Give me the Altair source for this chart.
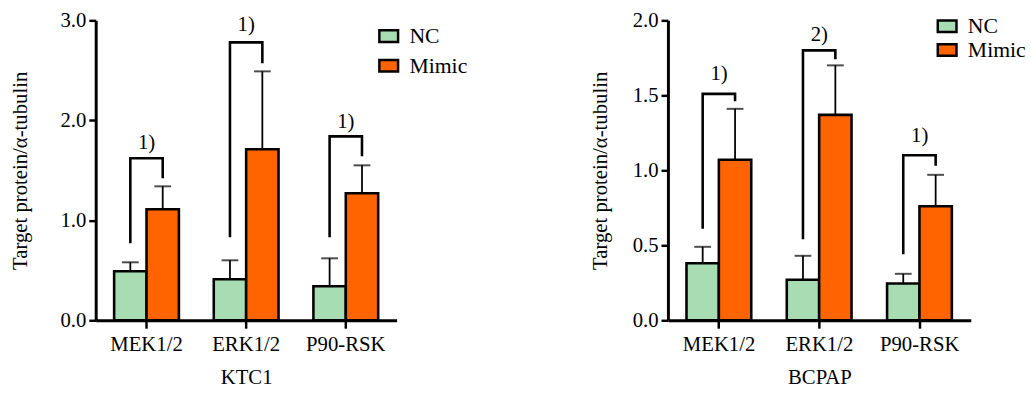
import altair as alt
import pandas as pd

genes = ["MEK1/2", "ERK1/2", "P90-RSK"]
groups = ["NC", "Mimic"]
colors = ["#A8DDB4", "#FF6400"]

# KTC1 panel
ktc1_nc = [0.49, 0.41, 0.34]
ktc1_nc_err = [0.58, 0.60, 0.62]
ktc1_mimic = [1.11, 1.71, 1.27]
ktc1_mimic_err = [1.34, 2.49, 1.55]
ktc1_sig = ["1)", "1)", "1)"]
ktc1_br_bottom = [0.77, 0.83, 0.83]
ktc1_br_top = [1.62, 2.78, 1.84]
ktc1_br_right = [1.42, 2.57, 1.64]
ktc1_label_y = [1.77, 2.95, 1.98]
ktc1_ticks = [0.0, 1.0, 2.0, 3.0]

# BCPAP panel
bcpap_nc = [0.38, 0.27, 0.245]
bcpap_nc_err = [0.49, 0.43, 0.31]
bcpap_mimic = [1.07, 1.37, 0.76]
bcpap_mimic_err = [1.41, 1.70, 0.97]
bcpap_sig = ["1)", "2)", "1)"]
bcpap_br_bottom = [0.61, 0.54, 0.44]
bcpap_br_top = [1.51, 1.80, 1.10]
bcpap_br_right = [1.46, 1.74, 1.03]
bcpap_label_y = [1.64, 1.90, 1.23]
bcpap_ticks = [0.0, 0.5, 1.0, 1.5, 2.0]

FONT = "Liberation Serif"
FS = 21
YTITLE = "Target protein/α-tubulin"
SYMBOL = "M-1,-0.62L1,-0.62L1,0.62L-1,0.62Z"


def panel(nc, nc_err, mimic, mimic_err, sig, bb, bt, br, ly, title, ticks,
          width, lx, lyy, row_pad, ytp):
    bar_df = pd.DataFrame({
        "gene": genes * 2,
        "group": ["NC"] * 3 + ["Mimic"] * 3,
        "value": nc + mimic,
        "err": nc_err + mimic_err,
    })
    br_rows = []
    for i, g in enumerate(genes):
        br_rows += [
            {"gene": g, "group": "NC", "value": bb[i], "ord": 0},
            {"gene": g, "group": "NC", "value": bt[i], "ord": 1},
            {"gene": g, "group": "Mimic", "value": bt[i], "ord": 2},
            {"gene": g, "group": "Mimic", "value": br[i], "ord": 3},
        ]
    br_df = pd.DataFrame(br_rows)
    lab_df = pd.DataFrame({"gene": genes, "value": ly, "label": sig})

    x_axis = alt.Axis(title=title, labelAngle=0, labelFontSize=FS, titleFontSize=FS,
                      labelFont=FONT, titleFont=FONT, titleFontWeight="normal",
                      labelColor="black", titleColor="black", domainColor="black",
                      tickColor="black", domainWidth=3, tickWidth=2.5, tickSize=8,
                      labelPadding=6, titlePadding=12)
    y_axis = alt.Axis(title=YTITLE, values=ticks, format=".1f", grid=False,
                      labelFontSize=FS, titleFontSize=FS, labelFont=FONT, titleFont=FONT,
                      titleFontWeight="normal", labelColor="black", titleColor="black",
                      domainColor="black", tickColor="black", domainWidth=3,
                      tickWidth=2.5, tickSize=7, labelPadding=3, titlePadding=ytp)
    x_enc = alt.X("gene:N", sort=genes, axis=x_axis,
                  scale=alt.Scale(paddingInner=0.35, paddingOuter=0.185))
    xo_enc = alt.XOffset("group:N", sort=groups,
                         scale=alt.Scale(paddingInner=0, paddingOuter=0))
    y_scale = alt.Scale(domain=[ticks[0], ticks[-1]], nice=False)

    bars = alt.Chart(bar_df).mark_bar(stroke="black", strokeWidth=2.6).encode(
        x=x_enc, xOffset=xo_enc,
        y=alt.Y("value:Q", scale=y_scale, axis=y_axis),
        color=alt.Color("group:N", sort=groups,
                        scale=alt.Scale(domain=groups, range=colors),
                        legend=alt.Legend(title=None, orient="none", legendX=lx,
                                          legendY=lyy, symbolType=SYMBOL,
                                          symbolSize=360, symbolStrokeColor="black",
                                          symbolStrokeWidth=2.5, symbolOpacity=1,
                                          labelFontSize=22, labelFont=FONT,
                                          labelColor="black", rowPadding=row_pad,
                                          padding=0, labelOffset=10)),
    )
    err = alt.Chart(bar_df).mark_rule(color="black", strokeWidth=1.8).encode(
        x=x_enc, xOffset=xo_enc,
        y=alt.Y("value:Q", scale=y_scale, axis=y_axis), y2="err:Q",
    )
    cap = alt.Chart(bar_df).mark_tick(color="black", thickness=2, size=17,
                                      orient="horizontal").encode(
        x=x_enc, xOffset=xo_enc,
        y=alt.Y("err:Q", scale=y_scale, axis=y_axis),
    )
    bracket = alt.Chart(br_df).mark_line(color="black", strokeWidth=2.6,
                                         strokeJoin="miter").encode(
        x=x_enc, xOffset=xo_enc,
        y=alt.Y("value:Q", scale=y_scale, axis=y_axis),
        detail="gene:N", order="ord:Q",
    )
    labels = alt.Chart(lab_df).mark_text(font=FONT, fontSize=FS, color="black",
                                         baseline="middle").encode(
        x=x_enc, y=alt.Y("value:Q", scale=y_scale, axis=y_axis), text="label:N",
    )
    return alt.layer(bars, err, cap, bracket, labels).properties(width=width, height=304)


left = panel(ktc1_nc, ktc1_nc_err, ktc1_mimic, ktc1_mimic_err, ktc1_sig,
             ktc1_br_bottom, ktc1_br_top, ktc1_br_right, ktc1_label_y, "KTC1",
             ktc1_ticks, 305, 286, 5, 8, 30)
right = panel(bcpap_nc, bcpap_nc_err, bcpap_mimic, bcpap_mimic_err, bcpap_sig,
              bcpap_br_bottom, bcpap_br_top, bcpap_br_right, bcpap_label_y, "BCPAP",
              bcpap_ticks, 307, 272, -5, 2, 22)

chart = alt.hconcat(left, right, spacing=275, bounds="flush").resolve_scale(
    color="independent", x="independent", y="independent"
).properties(
    padding={"left": 9, "top": 7, "right": 5, "bottom": 0}
).configure(background="white", font=FONT).configure_view(stroke=None).configure_axis(
    labelFont=FONT, titleFont=FONT
).configure_text(font=FONT).configure_legend(labelFont=FONT)

chart.save("out.html", embed_options={"renderer": "svg", "actions": False})
